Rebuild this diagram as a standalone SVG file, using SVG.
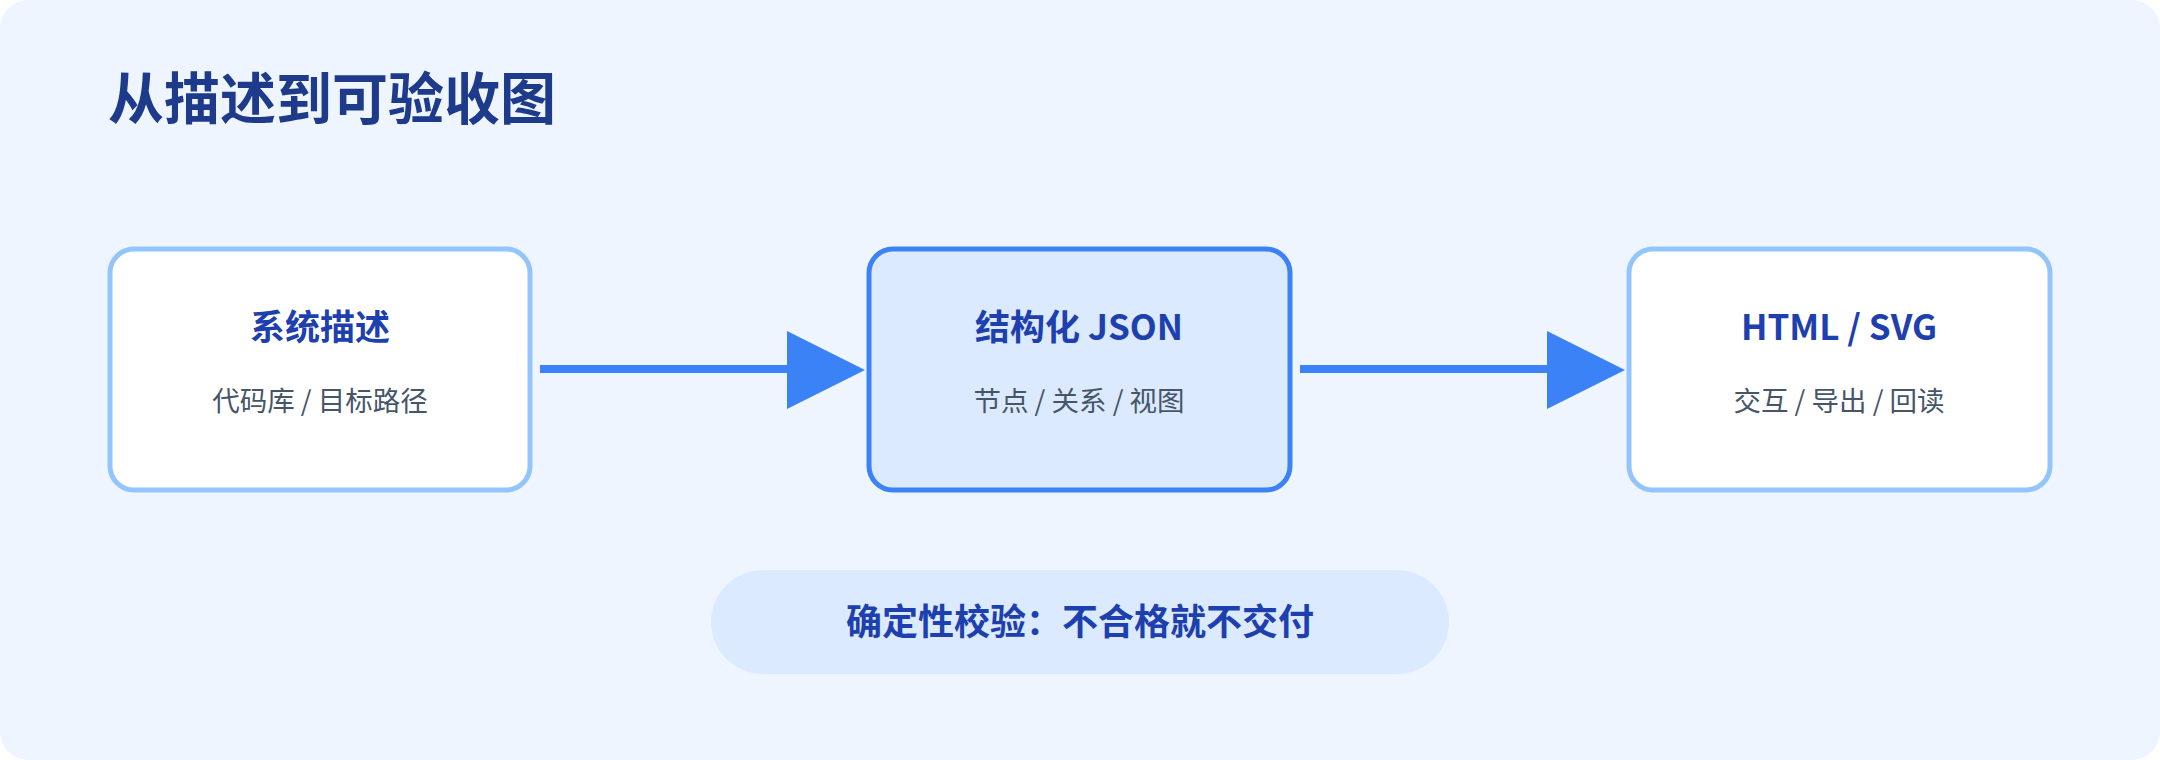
<svg xmlns="http://www.w3.org/2000/svg" width="2160" height="760" viewBox="0 0 2160 760">
<style>
.t{font-family:"Noto Sans CJK SC","Noto Sans",sans-serif;}
.box{fill:#ffffff;stroke:#93C5FD;stroke-width:5}
.hb{fill:#DBEAFE;stroke:#3B82F6;stroke-width:5}
.h{font-size:35px;font-weight:700;fill:#1E40AF;text-anchor:middle}
.s{font-size:27.5px;fill:#475569;text-anchor:middle}
.ln{stroke:#3B82F6;stroke-width:8}
.ah{fill:#3B82F6}
</style>
<rect x="0" y="0" width="2160" height="760" rx="28" fill="#EEF5FE"/>
<text class="t" x="108" y="119" font-size="56" font-weight="700" fill="#1E3A8A">从描述到可验收图</text>
<g id="connectors">
<line class="ln" x1="540" y1="369" x2="792" y2="369"/>
<polygon class="ah" points="787,331 865,370 787,409"/>
<line class="ln" x1="1300" y1="369" x2="1552" y2="369"/>
<polygon class="ah" points="1547,331 1625,370 1547,409"/>
</g>
<g id="node1">
<rect class="box" x="110" y="249" width="420" height="241" rx="24"/>
<text class="t h" x="320" y="340">系统描述</text>
<text class="t s" x="320" y="411">代码库 / 目标路径</text>
</g>
<g id="node2">
<rect class="hb" x="869" y="249" width="421" height="241" rx="24"/>
<text class="t h" x="1079" y="340">结构化 JSON</text>
<text class="t s" x="1079" y="411">节点 / 关系 / 视图</text>
</g>
<g id="node3">
<rect class="box" x="1629" y="249" width="421" height="241" rx="24"/>
<text class="t h" x="1839" y="340">HTML / SVG</text>
<text class="t s" x="1839" y="411">交互 / 导出 / 回读</text>
</g>
<g id="check">
<rect x="711" y="570" width="738" height="104" rx="52" fill="#DBEAFE"/>
<text class="t" x="1080" y="635" font-size="36" font-weight="700" fill="#1E40AF" text-anchor="middle">确定性校验：不合格就不交付</text>
</g>
</svg>
